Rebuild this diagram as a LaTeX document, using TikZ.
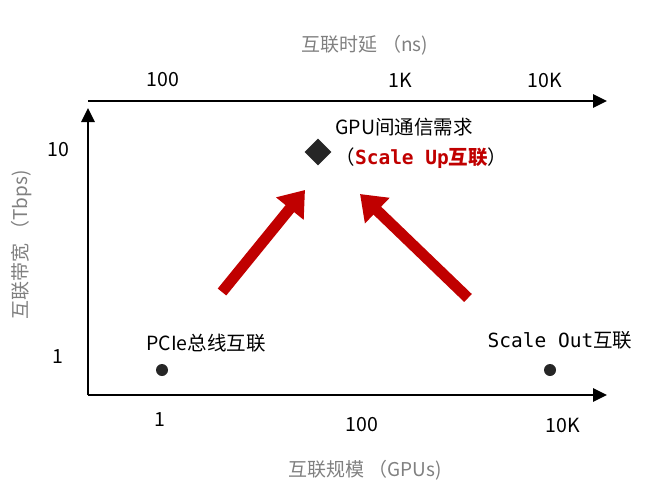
\documentclass[tikz,border=0pt]{standalone}
\usepackage{fontspec}
\setmainfont{Noto Sans CJK SC}
\newfontfamily\monof{DejaVu Sans Mono}
\usetikzlibrary{arrows.meta,shapes.geometric}
\definecolor{gtxt}{HTML}{808080}
\definecolor{dred}{HTML}{C00000}
\begin{document}
\begin{tikzpicture}[x=1pt,y=-1pt,
  axis/.style={line width=2.8pt,-{Triangle[length=14pt,width=13pt]}},
  lbl/.style={font=\fontsize{19.5}{22}\selectfont},
  ttl/.style={font=\fontsize{19}{22}\selectfont,text=gtxt},
  big/.style={line width=11pt,dred,-{Triangle[length=24pt,width=34pt]}},
  dot/.style={circle,fill=black!85,inner sep=0pt,minimum size=12pt}]
\useasboundingbox (0,0) rectangle (658,495);
\node[ttl] (tt) at (365,45) {互联时延 （ns)};
\coordinate (tl) at (88,101); \coordinate (tr) at (607,101);
\draw[axis] (tl) -- (tr);
\coordinate (o) at (88,395); \coordinate (yt) at (88,108); \coordinate (xr) at (607,395);
\draw[axis] (o) -- (yt);
\draw[axis] (o) -- (xr);
\node[lbl] (t1) at (163,80) {100};
\node[lbl] (t2) at (400,80) {1K};
\node[lbl] (t3) at (545,80) {10K};
\node[lbl] (y1) at (58,150) {10};
\node[lbl] (y2) at (58,357) {1};
\node[ttl,rotate=90] (yt2) at (22,245) {互联带宽 （Tbps)};
\node[lbl] (x1) at (160,420) {1};
\node[lbl] (x2) at (362,425) {100};
\node[lbl] (x3) at (563,425) {10K};
\node[ttl] (xt) at (365,470) {互联规模 （GPUs)};
\node[diamond,fill=black!85,minimum size=27pt,inner sep=0pt] (d) at (318,152) {};
\node[lbl,anchor=west] (g1) at (332,127) {GPU间通信需求};
\node[lbl,anchor=west] (g2) at (332,158) {（\textcolor{dred}{\textbf{\monof Scale Up}\textbf{互联}}）};
\node[dot] (p1) at (162,370) {};
\node[dot] (p2) at (550,370) {};
\node[lbl] (pl) at (206,343) {PCIe总线互联};
\node[lbl] (sl) at (560,340) {{\monof Scale Out}互联};
\coordinate (a1s) at (222,292); \coordinate (a1e) at (305,190);
\coordinate (a2s) at (468,298); \coordinate (a2e) at (360,194);
\draw[big] (a1s) -- (a1e);
\draw[big] (a2s) -- (a2e);
\end{tikzpicture}
\end{document}
